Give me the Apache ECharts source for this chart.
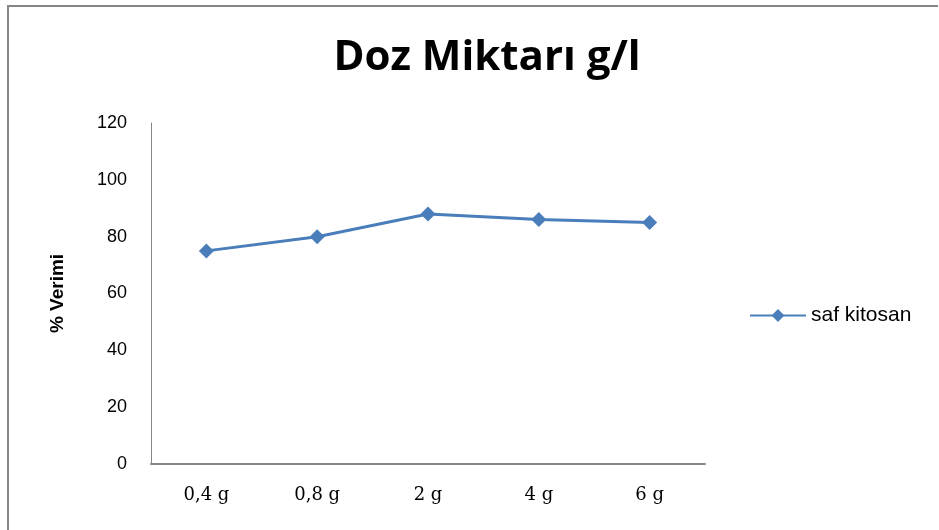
<!DOCTYPE html>
<html>
<head>
<meta charset="utf-8">
<script src="https://cdn.jsdelivr.net/npm/echarts@6/dist/echarts.min.js"></script>
<style>
  html, body { margin: 0; padding: 0; background: #fff; }
  #chart { width: 939px; height: 530px; }
</style>
</head>
<body>
<div id="chart"></div>
<script>
// veriler
const categories = ['0,4 g', '0,8 g', '2 g', '4 g', '6 g']
const verim = [75, 80, 88, 86, 85]
const yTicks = [0, 20, 40, 60, 80, 100, 120]

const myChart = echarts.init(document.getElementById('chart'))

const option = {
  backgroundColor: '#fff',
  animation: false,
  title: {
    text: 'Doz Miktarı g/l',
    left: 482,
    top: 32,
    textAlign: 'center',
    textStyle: {
      fontFamily: 'Open Sans',
      fontWeight: 'bold',
      fontSize: 42,
      color: '#000',
    },
  },
  legend: {
    left: 744,
    top: 300,
    itemWidth: 56,
    itemHeight: 16,
    itemGap: 4,
    textStyle: { fontFamily: 'Liberation Sans', fontSize: 21, color: '#000', padding: [0, 0, 0, 0] },
    data: ['saf kitosan'],
  },
  grid: { left: 151, top: 123, width: 554, height: 341, containLabel: false },
  xAxis: {
    type: 'category',
    data: categories,
    boundaryGap: true,
    axisLine: { lineStyle: { color: '#868686', width: 2 } },
    axisTick: { show: false },
    axisLabel: {
      margin: 22,
      fontFamily: 'DejaVu Serif',
      fontSize: 18,
      color: '#000',
    },
  },
  yAxis: {
    type: 'value',
    min: yTicks[0],
    max: yTicks[yTicks.length - 1],
    interval: 20,
    name: '% Verimi',
    nameLocation: 'middle',
    nameGap: 84,
    nameTextStyle: {
      fontFamily: 'Liberation Sans',
      fontWeight: 'bold',
      fontSize: 19,
      color: '#000',
    },
    splitLine: { show: false },
    axisLine: { show: true, lineStyle: { color: '#868686', width: 1 } },
    axisTick: { show: false },
    axisLabel: {
      margin: 24,
      fontFamily: 'Liberation Sans',
      fontSize: 18,
      color: '#000',
    },
  },
  series: [
    {
      name: 'saf kitosan',
      type: 'line',
      data: verim,
      symbol: 'diamond',
      symbolSize: 15,
      lineStyle: { color: '#4a7ebb', width: 3 },
      itemStyle: { color: '#4a7ebb' },
    },
  ],
  graphic: [
    {
      type: 'polyline',
      shape: { points: [[8, 540], [8, 6], [938, 6]] },
      style: { stroke: '#868686', lineWidth: 2, fill: null },
    },
  ],
}

option && myChart.setOption(option)
</script>
</body>
</html>
